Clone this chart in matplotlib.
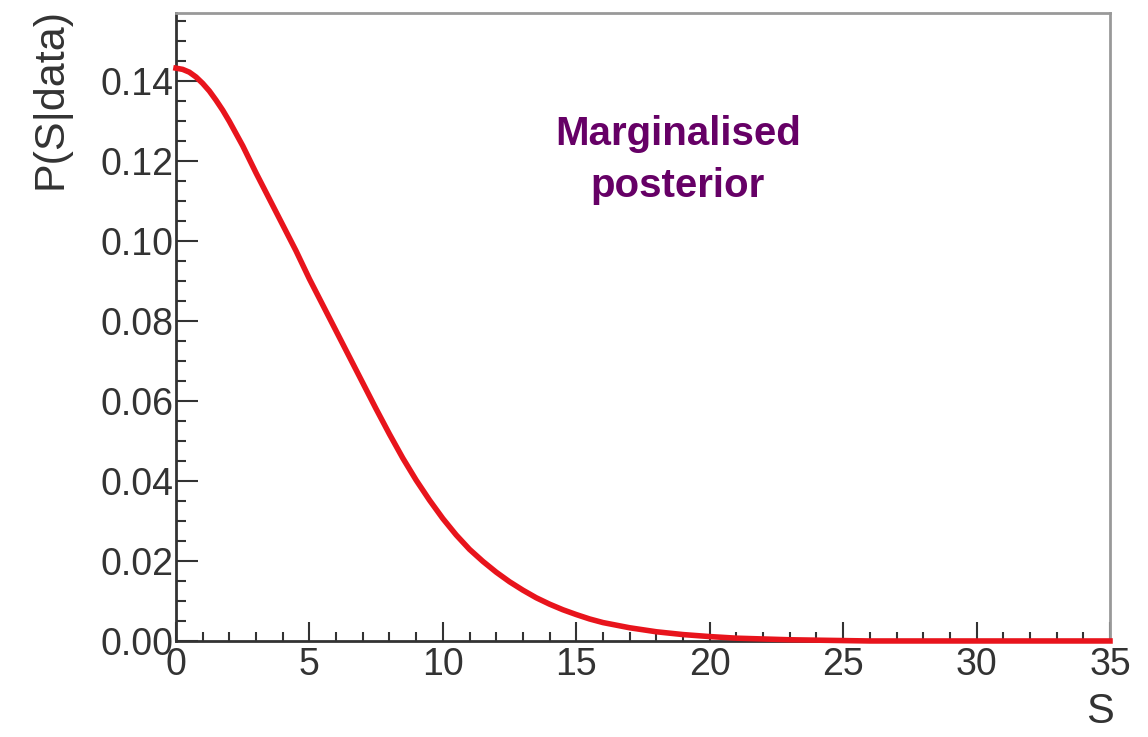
import matplotlib
matplotlib.use("Agg")
import matplotlib.pyplot as plt
from matplotlib.ticker import MultipleLocator, FormatStrFormatter

# S values and marginalised posterior P(S|data)
s_vals = [0, 0.25, 0.5, 0.75, 1, 1.25, 1.5, 1.75, 2, 2.5, 3, 3.5, 4, 4.5,
          5, 5.5, 6, 6.5, 7, 7.5, 8, 8.5, 9, 9.5, 10, 10.5, 11, 11.5, 12,
          12.5, 13, 13.5, 14, 14.5, 15, 15.5, 16, 17, 18, 19, 20, 21, 22,
          23, 24, 25, 26, 28, 30, 32, 35]
posterior = [0.1432, 0.1429, 0.1422, 0.1410, 0.1394, 0.1375, 0.1352, 0.1327,
             0.1299, 0.1238, 0.1170, 0.1105, 0.1040, 0.0975, 0.0905, 0.0840,
             0.0775, 0.0710, 0.0645, 0.0580, 0.0517, 0.0457, 0.0402, 0.0352,
             0.0306, 0.0265, 0.0229, 0.0199, 0.0172, 0.0148, 0.0127, 0.0108,
             0.0092, 0.0078, 0.0066, 0.0055, 0.0046, 0.0033, 0.0023, 0.0016,
             0.0011, 0.0007, 0.0005, 0.0003, 0.0002, 0.0001, 0.0, 0.0, 0.0,
             0.0, 0.0]

plt.rcParams["font.family"] = ["Liberation Sans", "DejaVu Sans"]
text_col = "#333333"

fig = plt.figure(figsize=(11.48, 7.37), dpi=100)
ax = fig.add_axes([0.1533, 0.1303, 0.8136, 0.8521])

ax.plot(s_vals, posterior, color="#e8141c", lw=4, clip_on=False, zorder=5,
        solid_joinstyle="round")

ax.set_xlim(0, 35)
ax.set_ylim(0, 0.157)
ax.xaxis.set_major_locator(MultipleLocator(5))
ax.xaxis.set_minor_locator(MultipleLocator(1))
ax.yaxis.set_minor_locator(MultipleLocator(0.005))
ax.yaxis.set_major_formatter(FormatStrFormatter("%.2f"))
ax.set_yticks([0.0, 0.02, 0.04, 0.06, 0.08, 0.10, 0.12, 0.14])

ax.tick_params(axis="both", which="both", direction="in", colors=text_col,
               width=1.5, labelsize=27, top=False, right=False)
ax.tick_params(axis="y", which="major", length=16, pad=2)
ax.tick_params(axis="y", which="minor", length=7)
ax.tick_params(axis="x", which="major", length=14, pad=4)
ax.tick_params(axis="x", which="minor", length=6.5)

for side in ("left", "bottom"):
    ax.spines[side].set_color(text_col)
    ax.spines[side].set_linewidth(2)
for side in ("top", "right"):
    ax.spines[side].set_color("#999999")
    ax.spines[side].set_linewidth(2)

fig.text(50 / 1148, 1 - 8 / 737, "P(S|data)", rotation=90, ha="center",
         va="top", fontsize=31, color=text_col)
fig.text(1100 / 1148, 1 - 712 / 737, "S", ha="center", va="center",
         fontsize=30, color=text_col)

ax.text(0.5375, 0.766, "Marginalised\nposterior", transform=ax.transAxes,
        ha="center", va="center", fontsize=29, fontweight="bold",
        color="#660066", linespacing=1.45)

fig.savefig("out.png", dpi=100)
